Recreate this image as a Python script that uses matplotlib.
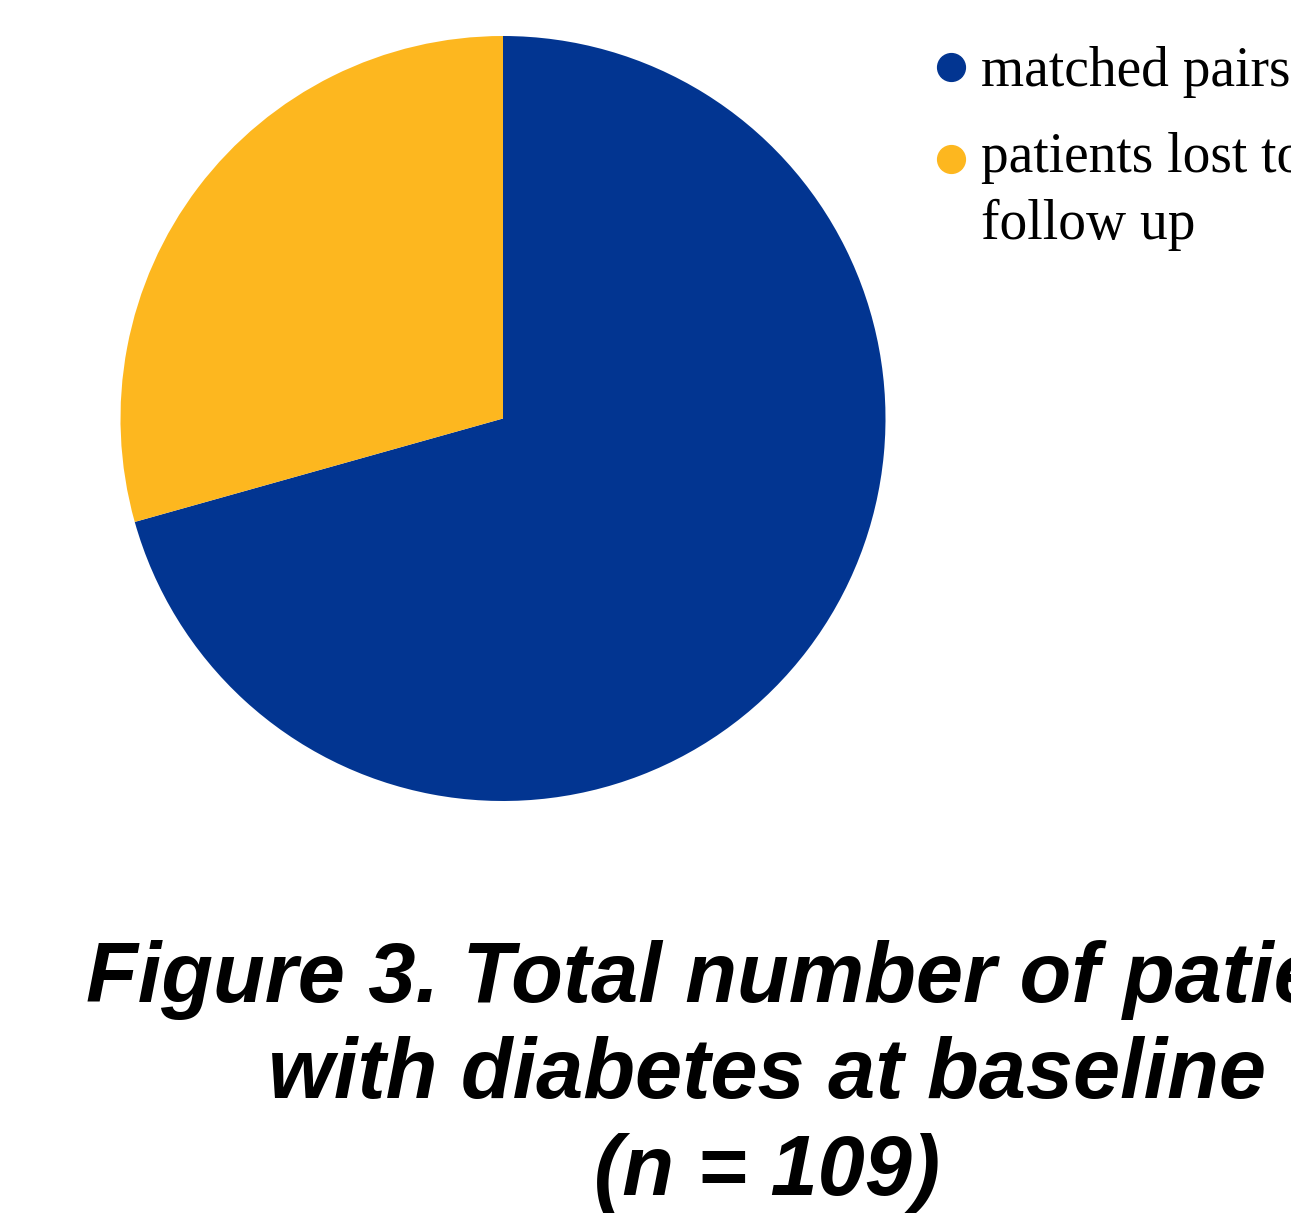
import numpy as np
import matplotlib.pyplot as plt
from matplotlib.lines import Line2D
from matplotlib.legend_handler import HandlerLine2D

labels = ["matched pairs", "patients lost to\nfollow up"]
counts = [77, 32]
colors = ["#023591", "#FDB71F"]
title = "Figure 3. Total number of patients\nwith diabetes at baseline\n(n = 109)"


class RaisedMarker(HandlerLine2D):
    # put the dot next to the first line of a wrapped label
    def __init__(self, raise_by=0.0, **kw):
        super().__init__(**kw)
        self.raise_by = raise_by

    def create_artists(self, legend, orig_handle, xdescent, ydescent,
                       width, height, fontsize, trans):
        arts = super().create_artists(legend, orig_handle, xdescent, ydescent,
                                      width, height, fontsize, trans)
        for a in arts:
            a.set_ydata(np.asarray(a.get_ydata()) + self.raise_by * fontsize)
        return arts


fig = plt.figure(figsize=(12.91, 12.18), dpi=100)
ax = fig.add_axes([120 / 1291, 1 - 801 / 1218, 766 / 1291, 765 / 1218])

ax.pie(counts, colors=colors, startangle=90, counterclock=False,
       wedgeprops=dict(linewidth=0))
ax.set_xlim(-1, 1)
ax.set_ylim(-1, 1)
ax.set_aspect("equal")
ax.axis("off")

handles = [Line2D([], [], linestyle="none", marker="o", markersize=20,
                  markerfacecolor=c, markeredgecolor=c) for c in colors]
leg = fig.legend(handles, labels, loc="upper left",
                 bbox_to_anchor=(937 / 1291, 1 - 46 / 1218),
                 frameon=False, borderpad=0, borderaxespad=0, handlelength=0.5,
                 handletextpad=0.3, labelspacing=0.62,
                 handler_map={handles[1]: RaisedMarker(raise_by=0.6)},
                 prop=dict(family="Liberation Serif", size=40))
for t in leg.get_texts():
    t.set_linespacing(1.35)

fig.text(767 / 1291, 1 - 1213 / 1218, title, ha="center", va="bottom",
         fontsize=61, fontweight="bold", fontstyle="italic",
         family="Liberation Sans", linespacing=1.27)

fig.savefig("out.png", dpi=100)
